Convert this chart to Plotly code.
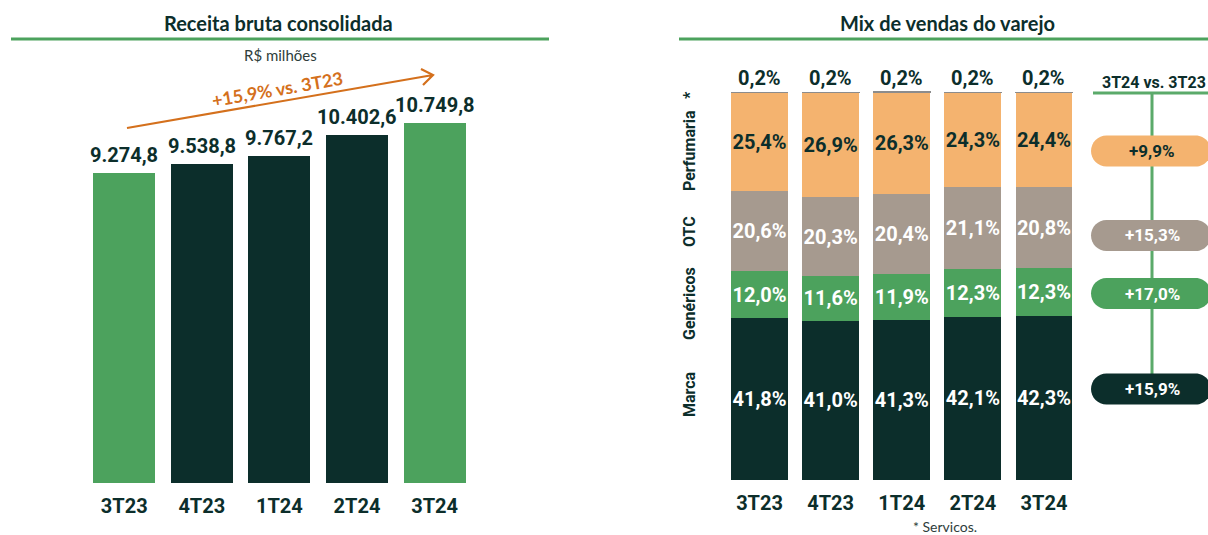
import plotly.graph_objects as go

W, H = 1208, 535

# ---------------- data ----------------
quarters = ["3T23", "4T23", "1T24", "2T24", "3T24"]
receita = [9274.8, 9538.8, 9767.2, 10402.6, 10749.8]  # R$ milhões

mix_marca = [41.8, 41.0, 41.3, 42.1, 42.3]
mix_genericos = [12.0, 11.6, 11.9, 12.3, 12.3]
mix_otc = [20.6, 20.3, 20.4, 21.1, 20.8]
mix_perfumaria = [25.4, 26.9, 26.3, 24.3, 24.4]
mix_servicos = [0.2, 0.2, 0.2, 0.2, 0.2]

growth_text = ["+9,9%", "+15,3%", "+17,0%", "+15,9%"]  # Perfumaria, OTC, Genéricos, Marca
growth_total = "+15,9% vs. 3T23"

# ---------------- style ----------------
DARK = "#0C2E2B"
GREEN = "#4CA25D"
ORANGE = "#F4B36F"
TAUPE = "#A69A8F"
GRAY = "#8C8C8C"
ARROW = "#D4701C"
LINEG = "#5BAA6A"
NUMF = "Roboto"
TXTF = "Lato"


def br(v, dec=1):
    s = f"{v:,.{dec}f}"
    return s.replace(",", "X").replace(".", ",").replace("X", ".")


def pct(v):
    return br(v) + "%"


def px(x):
    return x / W


def py(y):
    return 1 - y / H


fig = go.Figure()

# left chart: receita bruta
fig.add_trace(go.Bar(
    x=quarters, y=receita, xaxis="x", yaxis="y",
    marker=dict(color=[GREEN, DARK, DARK, DARK, GREEN], line=dict(width=0)),
    hoverinfo="skip", showlegend=False,
))

# right chart: mix de vendas
segments = [
    ("Marca", mix_marca, DARK, "white"),
    ("Genéricos", mix_genericos, GREEN, "white"),
    ("OTC", mix_otc, TAUPE, "white"),
    ("Perfumaria", mix_perfumaria, ORANGE, DARK),
]
for name, vals, col, tcol in segments:
    fig.add_trace(go.Bar(
        x=quarters, y=vals, xaxis="x2", yaxis="y2", name=name,
        marker=dict(color=col, line=dict(width=0)),
        text=[pct(v) for v in vals], textposition="inside",
        insidetextanchor="middle", constraintext="none", textangle=0,
        textfont=dict(family=NUMF, size=20, color=tcol, weight="bold"),
        hoverinfo="skip", showlegend=False,
    ))
fig.add_trace(go.Bar(
    x=quarters, y=mix_servicos, xaxis="x2", yaxis="y2", name="Serviços",
    marker=dict(color=GRAY, line=dict(width=1, color=GRAY)),
    hoverinfo="skip", showlegend=False,
))

annotations = []
shapes = []


def ptext(x, y, text, size, color, family=TXTF, angle=0, xanchor="center"):
    return dict(x=px(x), y=py(y), xref="paper", yref="paper", text=text, showarrow=False,
                xanchor=xanchor, yanchor="middle", textangle=angle,
                font=dict(family=family, size=size, color=color))


# value labels on left bars
for q, v in zip(quarters, receita):
    annotations.append(dict(
        x=q, y=v, xref="x", yref="y", text=f"<b>{br(v)}</b>", showarrow=False,
        xanchor="center", yanchor="bottom", yshift=4,
        font=dict(family=NUMF, size=20, color=DARK),
    ))

# 0,2% labels on top of stacks
totals = [a + b + c + d + e for a, b, c, d, e in
          zip(mix_marca, mix_genericos, mix_otc, mix_perfumaria, mix_servicos)]
for q, t, s in zip(quarters, totals, mix_servicos):
    annotations.append(dict(
        x=q, y=t, xref="x2", yref="y2", text=f"<b>{pct(s)}</b>", showarrow=False,
        xanchor="center", yanchor="bottom", yshift=0,
        font=dict(family=NUMF, size=20, color=DARK),
    ))

# titles and notes
annotations += [
    ptext(278, 23, "<b>Receita bruta consolidada</b>", 20, DARK),
    ptext(280, 55, "R$ milhões", 15, "#2E3D3B"),
    ptext(947, 23, "<b>Mix de vendas do varejo</b>", 20, DARK),
    ptext(945, 526, "* Servicos.", 14, "#2E3D3B"),
    ptext(277, 89, f"<b>{growth_total}</b>", 18, ARROW, angle=-9.8),
    ptext(1100, 83, "<b>3T24 vs. 3T23</b>", 16, DARK, family=NUMF, xanchor="left"),
]

# vertical category labels
for txt, yc in [("Marca", 394), ("Genéricos", 304), ("OTC", 232), ("Perfumaria", 151), ("*", 95)]:
    annotations.append(ptext(689, yc, f"<b>{txt}</b>", 16, DARK, family=NUMF, angle=-90))

# title underlines
for x0, x1 in [(11, 549), (679, 1208)]:
    shapes.append(dict(type="line", xref="paper", yref="paper", x0=px(x0), x1=px(x1),
                       y0=py(39), y1=py(39), line=dict(color=GREEN, width=3)))

# arrow
hx, hy = 433, 75
tx, ty = 127, 128
arrow_path = (f"M {px(tx)},{py(ty)} L {px(hx)},{py(hy)} "
              f"M {px(423)},{py(85)} L {px(hx)},{py(hy)} L {px(421)},{py(69)}")
shapes.append(dict(type="path", xref="paper", yref="paper", path=arrow_path,
                   line=dict(color=ARROW, width=2.2)))

# growth column
shapes.append(dict(type="line", xref="paper", yref="paper", x0=px(1093), x1=px(1208),
                   y0=py(93), y1=py(93), line=dict(color=LINEG, width=3)))
shapes.append(dict(type="line", xref="paper", yref="paper", x0=px(1152), x1=px(1152),
                   y0=py(93), y1=py(380), line=dict(color=LINEG, width=3)))


def pill(x0, x1, yc, h):
    r = h / 2
    k = 0.5523 * r
    y0, y1 = yc - r, yc + r
    pts = [
        ("M", [(x0 + r, y0)]),
        ("L", [(x1 - r, y0)]),
        ("C", [(x1 - r + k, y0), (x1, yc - k), (x1, yc)]),
        ("C", [(x1, yc + k), (x1 - r + k, y1), (x1 - r, y1)]),
        ("L", [(x0 + r, y1)]),
        ("C", [(x0 + r - k, y1), (x0, yc + k), (x0, yc)]),
        ("C", [(x0, yc - k), (x0 + r - k, y0), (x0 + r, y0)]),
    ]
    s = ""
    for cmd, ps in pts:
        s += cmd + " " + " ".join(f"{px(a):.5f},{py(b):.5f}" for a, b in ps) + " "
    return s + "Z"


pill_rows = [(151, ORANGE, DARK), (235.5, TAUPE, "white"), (293.5, GREEN, "white"), (389, DARK, "white")]
for (yc, fill, tcol), txt in zip(pill_rows, growth_text):
    shapes.append(dict(type="path", xref="paper", yref="paper", path=pill(1091, 1211, yc, 31),
                       fillcolor=fill, line=dict(width=0)))
    annotations.append(ptext(1152, yc, f"<b>{txt}</b>", 17, tcol, family=NUMF))

axis_common = dict(showgrid=False, zeroline=False, showline=False, ticks="",
                   tickfont=dict(family=NUMF, size=20, color=DARK, weight="bold"),
                   fixedrange=True)

Y2TOP = 101.0
fig.update_layout(
    width=W, height=H,
    margin=dict(l=0, r=0, t=0, b=0),
    paper_bgcolor="white", plot_bgcolor="white",
    barmode="stack", bargap=0.2,
    showlegend=False,
    xaxis=dict(domain=[px(85.4), px(476.6)], anchor="y", ticklabelstandoff=9, **axis_common),
    yaxis=dict(domain=[py(483), py(100)], range=[0, (483 - 100) / 0.03345], visible=False,
               fixedrange=True),
    xaxis2=dict(domain=[px(724), px(1079.5)], anchor="y2", ticklabelstandoff=9, **axis_common),
    yaxis2=dict(domain=[py(480), py(480 - 3.88 * Y2TOP)], range=[0, Y2TOP], visible=False,
                fixedrange=True),
    annotations=annotations,
    shapes=shapes,
)

fig.write_html("out.html", config={"displayModeBar": False},
               post_script="document.body.style.margin='0';")
